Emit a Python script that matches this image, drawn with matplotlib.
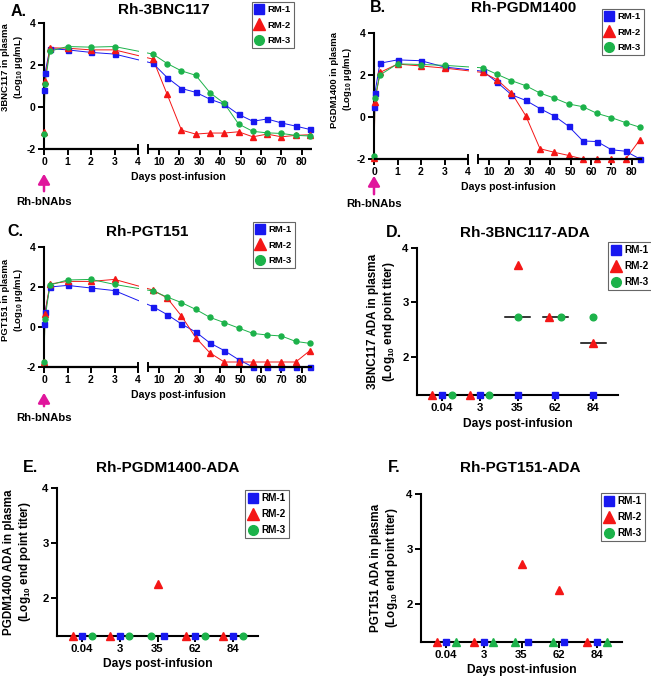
import numpy as np
import matplotlib
matplotlib.use('Agg')
import matplotlib.pyplot as plt
from matplotlib.lines import Line2D

plt.rcParams['font.family'] = ['Liberation Sans', 'DejaVu Sans']
plt.rcParams['font.weight'] = 'bold'
plt.rcParams['axes.labelweight'] = 'bold'
plt.rcParams['axes.unicode_minus'] = False
plt.rcParams['mathtext.fontset'] = 'custom'
plt.rcParams['mathtext.rm'] = 'Liberation Sans:bold'
plt.rcParams['mathtext.it'] = 'Liberation Sans:bold'
plt.rcParams['mathtext.bf'] = 'Liberation Sans:bold'

# ---------------- data ----------------
animals = ['RM-1', 'RM-2', 'RM-3']
days = [0, 0.04, 0.25, 1, 2, 3, 7, 14, 21, 28, 35, 42, 49, 56, 63, 70, 77, 84]

A_RM1 = [0.80, 1.60, 2.78, 2.72, 2.60, 2.52, 2.08, 1.40, 0.88, 0.70, 0.37, 0.13, -0.35, -0.68, -0.57, -0.76, -0.91, -1.07]
A_RM2 = [-1.19, 1.25, 2.82, 2.80, 2.72, 2.72, 2.28, 0.60, -1.10, -1.29, -1.24, -1.24, -1.18, -1.42, -1.29, -1.42, -1.35, -1.32]
A_RM3 = [-1.29, 1.10, 2.66, 2.88, 2.85, 2.88, 2.52, 2.07, 1.72, 1.51, 0.68, 0.17, -0.81, -1.16, -1.23, -1.26, -1.35, -1.38]

B_RM1 = [0.46, 1.15, 2.56, 2.72, 2.68, 2.38, 2.18, 1.65, 1.06, 0.79, 0.40, 0.05, -0.44, -1.14, -1.17, -1.56, -1.63, -2.00]
B_RM2 = [-1.97, 0.70, 2.12, 2.52, 2.43, 2.33, 2.12, 1.77, 1.16, 0.06, -1.51, -1.68, -1.83, -2.00, -2.00, -2.00, -2.00, -1.08]
B_RM3 = [-1.84, 0.90, 2.00, 2.53, 2.50, 2.46, 2.34, 2.03, 1.73, 1.49, 1.14, 0.90, 0.62, 0.49, 0.17, -0.03, -0.27, -0.49]

C_RM1 = [0.13, 0.75, 2.00, 2.08, 1.95, 1.82, 1.02, 0.62, 0.15, -0.25, -0.80, -1.18, -1.63, -2.00, -2.00, -2.00, -2.00, -2.00]
C_RM2 = [-1.73, 0.63, 2.15, 2.28, 2.28, 2.38, 1.85, 1.45, 0.55, -0.53, -1.30, -1.75, -1.75, -1.75, -1.75, -1.75, -1.75, -1.18]
C_RM3 = [-1.73, 0.38, 2.10, 2.35, 2.38, 2.13, 1.80, 1.50, 1.22, 0.88, 0.48, 0.22, -0.05, -0.32, -0.40, -0.45, -0.72, -0.82]

ada_days = ['0.04', '3', '35', '62', '84']
D_RM1 = [1.30, 1.30, 1.30, 1.30, 1.30]
D_RM2 = [1.30, 1.30, 3.69, 2.73, 2.25]
D_RM3 = [1.30, 1.30, 2.73, 2.73, 2.73]

E_RM1 = [1.30, 1.30, 1.30, 1.30, 1.30]
E_RM2 = [1.30, 1.30, 2.25, 1.30, 1.30]
E_RM3 = [1.30, 1.30, 1.30, 1.30, 1.30]

F_RM1 = [1.30, 1.30, 1.30, 1.30, 1.30]
F_RM2 = [1.30, 1.30, 2.73, 2.25, 1.30]
F_RM3 = [1.30, 1.30, 1.30, 1.30, 1.30]

# ---------------- layout / style ----------------
W, H = 651, 682
fig = plt.figure(figsize=(W / 100, H / 100), dpi=100)

BLUE, RED, GREEN = '#1818f0', '#f41616', '#1cb24a'
COLS = [BLUE, RED, GREEN]
MK = ['s', '^', 'o']
MAG = '#e0169c'

def rect(l, t, r, b):
    return [l / W, 1 - b / H, (r - l) / W, (b - t) / H]

def fx(x):
    return x / W

def fy(y):
    return 1 - y / H

# broken x-axis mapping (days -> pixel-like units)
DX = [0, 4, 4.6, 85]
PX = [0, 94, 104, 268]

def fwd(x):
    return np.interp(x, DX, PX)

def inv(u):
    return np.interp(u, PX, DX)


def add_legend(legpos, fs, ls):
    handles = [Line2D([], [], ls='none', marker=m, color=c, ms=7 if m != '^' else 8.5)
               for c, m in zip(COLS, MK)]
    leg = fig.legend(handles, animals, loc='upper left', bbox_to_anchor=(fx(legpos[0]), fy(legpos[1])),
                     bbox_transform=fig.transFigure, frameon=True, fancybox=False, edgecolor='#666666',
                     framealpha=1, fontsize=fs, handlelength=0.9, handletextpad=0.45, borderpad=0.3,
                     labelspacing=ls, borderaxespad=0)
    leg.get_frame().set_linewidth(0.8)


def time_panel(r, series, ylabel, ylab_xy, title, letter, tpos, lpos, legpos, arrow):
    ax = fig.add_axes(rect(*r))
    ax.set_xscale('function', functions=(fwd, inv))
    ax.set_xlim(0, 85)
    ax.set_ylim(-2, 4)
    for s in ['top', 'right', 'bottom']:
        ax.spines[s].set_visible(False)
    ax.spines['left'].set_linewidth(1.5)
    ax.set_yticks([-2, 0, 2, 4])
    ax.set_xticks([0, 1, 2, 3, 4, 10, 20, 30, 40, 50, 60, 70, 80])
    ax.set_xticklabels(['0', '1', '2', '3', '4', '10', '20', '30', '40', '50', '60', '70', '80'])
    ax.tick_params(direction='out', length=4, width=1.4, labelsize=7.5, pad=2)
    for vals, c, m in zip(series, COLS, MK):
        ax.plot(days, vals, '-', color=c, lw=0.7, zorder=2, clip_on=False)
        ax.plot(days, vals, ls='none', marker=m, color=c, ms=3.6 if m != '^' else 3.9,
                mec=c, zorder=3, clip_on=False)
    ax.axvspan(4.07, 4.54, color='white', zorder=2.6, lw=0)
    ax.plot([0, 4], [-2, -2], color='k', lw=1.6, zorder=4, clip_on=False, solid_capstyle='butt')
    ax.plot([4.6, 85], [-2, -2], color='k', lw=1.6, zorder=4, clip_on=False, solid_capstyle='butt')
    for xb in (4, 4.6):
        ax.plot([xb, xb], [-2.2, -1.8], color='k', lw=1.4, zorder=4, clip_on=False)
    ax.set_ylabel(ylabel, fontsize=6.8, fontweight='bold', linespacing=1.15)
    ax.yaxis.set_label_coords(*ylab_xy)
    ax.set_xlabel('Days post-infusion', fontsize=7.6, fontweight='bold', labelpad=3)
    fig.text(fx(tpos[0]), fy(tpos[1]), title, ha='center', va='center', fontsize=11, fontweight='bold')
    fig.text(fx(lpos[0]), fy(lpos[1]), letter, ha='center', va='center', fontsize=11.5, fontweight='bold')
    add_legend(legpos, 6.8, 0.72)
    ax_x, y_tail, y_head, y_txt = arrow
    fig.add_artist(matplotlib.patches.FancyArrowPatch(
        (fx(ax_x), fy(y_tail)), (fx(ax_x), fy(y_head)), transform=fig.transFigure,
        arrowstyle='-|>,head_width=3.5,head_length=6', color=MAG, lw=1.8, mutation_scale=1))
    fig.text(fx(ax_x), fy(y_txt), 'Rh-bNAbs', ha='center', va='center', fontsize=8.2, fontweight='bold')
    return ax


def ada_panel(r, series, offsets, markers, ylabel, ylab_xy, title, letter, tpos, lpos, legpos):
    ax = fig.add_axes(rect(*r))
    x = np.arange(len(ada_days))
    ax.set_xlim(-0.65, 4.65)
    ax.set_ylim(1.30103, 4)
    for s in ['top', 'right']:
        ax.spines[s].set_visible(False)
    ax.spines['left'].set_linewidth(1.5)
    ax.spines['bottom'].set_linewidth(1.5)
    ax.set_yticks([2, 3, 4])
    ax.set_xticks(x)
    ax.set_xticklabels(ada_days)
    ax.tick_params(direction='out', length=4, width=1.4, labelsize=8.2, pad=2)
    med = np.median(np.array(series), axis=0)
    for xi, mv in zip(x, med):
        ax.plot([xi - 0.33, xi + 0.33], [mv, mv], color='k', lw=1.1, zorder=2, clip_on=False)
    for vals, off, c, m in zip(series, offsets, COLS, markers):
        ax.plot(x + np.array(off), vals, ls='none', marker=m, color=c, ms=4.8 if m != '^' else 5.5,
                zorder=3, clip_on=False)
    ax.set_ylabel(ylabel, fontsize=8.4, fontweight='bold', linespacing=1.15)
    ax.yaxis.set_label_coords(*ylab_xy)
    ax.set_xlabel('Days post-infusion', fontsize=8.7, fontweight='bold', labelpad=3)
    fig.text(fx(tpos[0]), fy(tpos[1]), title, ha='center', va='center', fontsize=11, fontweight='bold')
    fig.text(fx(lpos[0]), fy(lpos[1]), letter, ha='center', va='center', fontsize=11.5, fontweight='bold')
    add_legend(legpos, 7.2, 0.6)
    return ax


ulab = '(Log$_{10}$ µg/mL)'
alab = '(Log$_{10}$ end point titer)'

time_panel((44, 23, 312, 149), [A_RM1, A_RM2, A_RM3], '3BNC117 in plasma\n' + ulab, (-0.072, 0.65),
           'Rh-3BNC117', 'A.', (164, 10), (19, 12), (252, 2), (44, 194, 171, 202))
time_panel((374, 33, 642, 159), [B_RM1, B_RM2, B_RM3], 'PGDM1400 in plasma\n' + ulab, (-0.076, 0.63),
           'Rh-PGDM1400', 'B.', (524, 8), (378, 8), (602, 9), (374, 197, 173, 204))
time_panel((44, 247, 312, 367), [C_RM1, C_RM2, C_RM3], 'PGT151 in plasma\n' + ulab, (-0.072, 0.56),
           'Rh-PGT151', 'C.', (147, 232), (15, 232), (253, 222), (44, 409, 390, 418))

ada_panel((417, 248, 618, 395), [D_RM1, D_RM2, D_RM3],
          [[0, 0, 0, 0, 0], [-0.26, -0.26, 0, -0.16, 0], [0.26, 0.26, 0, 0.16, 0]], MK,
          '3BNC117 ADA in plasma\n' + alab, (-0.10, 0.5),
          'Rh-3BNC117-ADA', 'D.', (525, 233), (394, 233), (608, 242))
ada_panel((57, 488, 258, 636), [E_RM1, E_RM2, E_RM3],
          [[0, 0, 0.16, 0, 0], [-0.24, -0.24, 0, -0.26, -0.26], [0.26, 0.26, -0.16, 0.26, 0.26]], MK,
          'PGDM1400 ADA in plasma\n' + alab, (-0.12, 0.5),
          'Rh-PGDM1400-ADA', 'E.', (168, 468), (30, 468), (245, 490))
ada_panel((421, 494, 622, 642), [F_RM1, F_RM2, F_RM3],
          [[0, 0, 0.16, 0.13, 0], [-0.24, -0.24, 0, 0, -0.26], [0.26, 0.26, -0.16, -0.16, 0.26]],
          ['s', '^', '^'],
          'PGT151 ADA in plasma\n' + alab, (-0.104, 0.5),
          'Rh-PGT151-ADA', 'F.', (520, 468), (394, 468), (601, 493))

fig.savefig('out.png', dpi=100, facecolor='white')
